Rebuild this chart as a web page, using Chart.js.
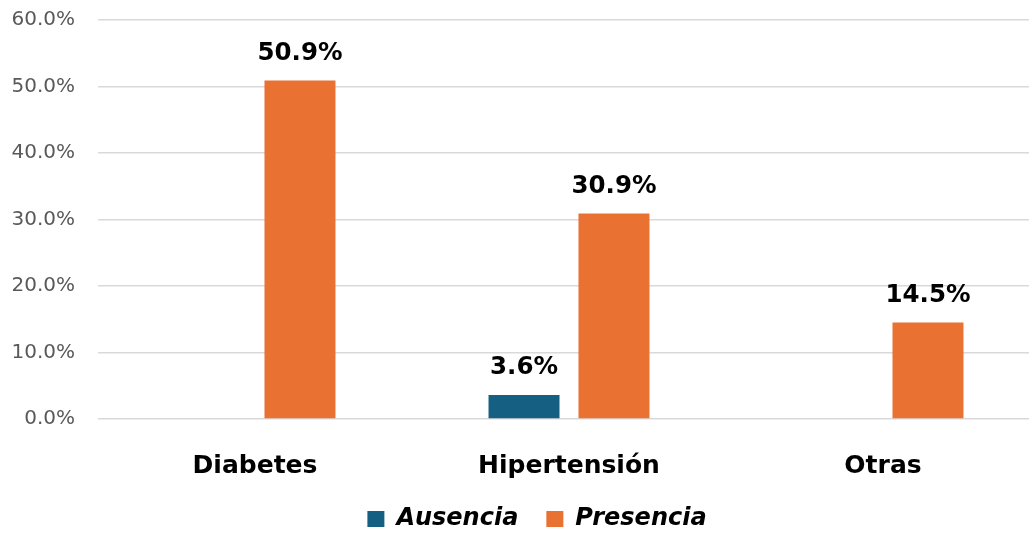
<!DOCTYPE html>
<html>
<head>
<meta charset="utf-8">
<script src="https://cdn.jsdelivr.net/npm/chart.js@4/dist/chart.umd.min.js"></script>
<style>
  html, body { margin: 0; padding: 0; background: #ffffff; overflow: hidden; }
  #wrap { width: 1029px; height: 533px; overflow: hidden; position: relative; }
  #c { position: absolute; left: 0; top: 0; }
</style>
</head>
<body>
<div id="wrap"><canvas id="c" width="1074" height="541"></canvas></div>
<script>
const categories = ['Diabetes', 'Hipertensión', 'Otras'];
const seriesNames = ['Ausencia', 'Presencia'];
const ausencia = [0, 3.6, 0];
const presencia = [50.9, 30.9, 14.5];
const yTicks = [0, 10, 20, 30, 40, 50, 60];
const seriesColors = ['#156082', '#E97132'];

const FONT = '"DejaVu Sans", "Liberation Sans", sans-serif';

// Percentage labels above each non-zero bar
const valueLabels = {
  id: 'valueLabels',
  afterDatasetsDraw(chart) {
    const ctx = chart.ctx;
    ctx.save();
    ctx.font = 'bold 24.5px ' + FONT;
    ctx.fillStyle = '#000000';
    ctx.textAlign = 'center';
    ctx.textBaseline = 'alphabetic';
    chart.data.datasets.forEach((ds, i) => {
      chart.getDatasetMeta(i).data.forEach((bar, j) => {
        const v = ds.data[j];
        if (!v) return;
        ctx.fillText(v.toFixed(1) + '%', bar.x, bar.y - 21);
      });
    });
    ctx.restore();
  }
};

new Chart(document.getElementById('c'), {
  type: 'bar',
  data: {
    labels: categories,
    datasets: [
      { label: seriesNames[0], data: ausencia, backgroundColor: seriesColors[0], borderWidth: 0 },
      { label: seriesNames[1], data: presencia, backgroundColor: seriesColors[1], borderWidth: 0 }
    ]
  },
  options: {
    responsive: false,
    devicePixelRatio: 1,
    animation: false,
    categoryPercentage: 0.573,
    barPercentage: 0.789,
    layout: { padding: { top: 20, left: 0, right: 0, bottom: 0 } },
    plugins: {
      tooltip: { enabled: false },
      legend: {
        position: 'bottom',
        labels: {
          boxWidth: 17,
          boxHeight: 16,
          padding: 28,
          color: '#000000',
          font: { family: FONT, size: 24, weight: 'bold', style: 'italic' }
        }
      }
    },
    scales: {
      x: {
        offset: true,
        grid: { display: false },
        border: { display: false },
        ticks: {
          color: '#000000',
          padding: 24,
          font: { family: FONT, size: 25, weight: 'bold' }
        },
        afterFit(s) { s.height = 60; }
      },
      y: {
        min: yTicks[0],
        max: yTicks[yTicks.length - 1],
        afterBuildTicks(s) { s.ticks = yTicks.map(v => ({ value: v })); },
        grid: { color: '#d9d9d9', lineWidth: 1.5, drawTicks: false },
        border: { display: false },
        ticks: {
          color: '#595959',
          padding: 23,
          font: { family: FONT, size: 20 },
          callback: v => Number(v).toFixed(1) + '%'
        },
        afterFit(s) { s.width = 98; s.paddingTop = 0; s.paddingBottom = 0; }
      },
      yRight: {
        axis: 'y',
        position: 'right',
        display: true,
        grid: { display: false },
        border: { display: false },
        ticks: { display: false },
        afterFit(s) { s.width = 34; }
      }
    }
  },
  plugins: [valueLabels]
});
</script>
</body>
</html>
